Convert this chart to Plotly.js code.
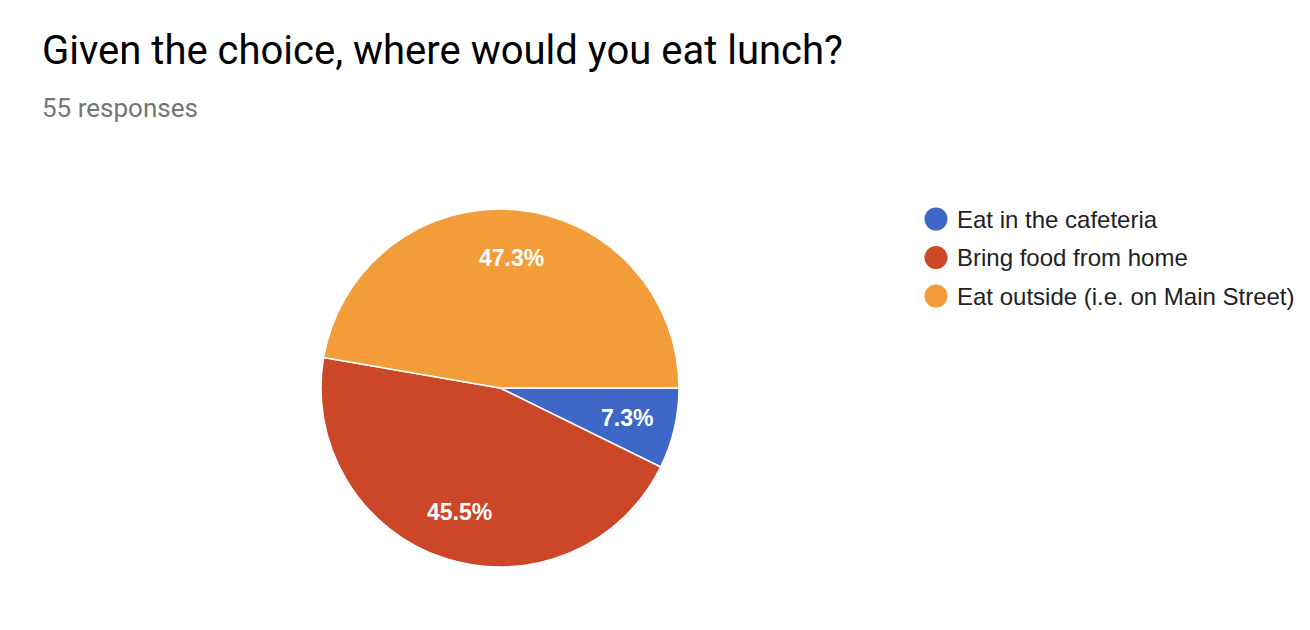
<!DOCTYPE html>
<html>
<head>
<meta charset="utf-8">
<script src="https://cdn.plot.ly/plotly-3.0.1.min.js"></script>
<style>html,body{margin:0;padding:0;background:#fff;}#chart{width:1310px;height:630px;}</style>
</head>
<body>
<div id="chart"></div>
<script>
const titleText = "Given the choice, where would you eat lunch?";
const subtitleText = "55 responses";
const categories = ["Eat in the cafeteria", "Bring food from home", "Eat outside (i.e. on Main Street)"];
const counts = [4, 25, 26];
const colors = ["#3e67c7", "#cc4728", "#f29d3a"];

const W = 1310, H = 630;
// pie geometry (pixels)
const pieCx = 500, pieCy = 388, pieR = 179;
const labelFrac = 0.73;

const legendX = 936 / W;      // circle centre (paper)
const legendTextX = 955 / W;
const legendTopY = 1 - 219 / H;
const legendStep = 38.5 / H;

const shapes = [];
const annotations = [{
  text: subtitleText, xref: "paper", yref: "paper", x: 40 / W, y: 1 - 108 / H,
  xanchor: "left", yanchor: "middle", showarrow: false,
  font: {family: "Roboto", size: 26, color: "#757575"}
}];
categories.forEach((c, i) => {
  const yc = legendTopY - i * legendStep;
  const rx = 11.5 / W, ry = 11.5 / H;
  shapes.push({type: "circle", xref: "paper", yref: "paper",
    x0: legendX - rx, x1: legendX + rx, y0: yc - ry, y1: yc + ry,
    fillcolor: colors[i], line: {width: 0}});
  annotations.push({text: c, xref: "paper", yref: "paper", x: legendTextX, y: yc,
    xanchor: "left", yanchor: "middle", showarrow: false,
    font: {family: "Liberation Sans, Arial", size: 24, color: "#222222"}});
});

// percentage labels placed at each slice's mid-angle (clockwise from 3 o'clock)
const total = counts.reduce((a, b) => a + b, 0);
let cum = 0;
counts.forEach((v, i) => {
  const mid = (cum + v / 2) / total * 2 * Math.PI;
  cum += v;
  const px = pieCx + labelFrac * pieR * Math.cos(mid);
  const py = pieCy + labelFrac * pieR * Math.sin(mid);
  annotations.push({text: (v / total * 100).toFixed(1) + "%", xref: "paper", yref: "paper",
    x: px / W, y: 1 - py / H, xanchor: "center", yanchor: "middle", showarrow: false,
    font: {family: "Liberation Sans, Arial", size: 23, color: "#ffffff", weight: "bold"}});
});

const data = [{
  type: "pie",
  labels: categories,
  values: counts,
  sort: false,
  direction: "clockwise",
  rotation: 90,
  marker: {colors: colors, line: {color: "#ffffff", width: 1.5}},
  textinfo: "none",
  domain: {x: [(pieCx - pieR) / W, (pieCx + pieR) / W], y: [1 - (pieCy + pieR) / H, 1 - (pieCy - pieR) / H]},
  hoverinfo: "none",
  showlegend: false
}];

const layout = {
  width: W, height: H,
  margin: {l: 0, r: 0, t: 0, b: 0},
  paper_bgcolor: "#ffffff",
  showlegend: false,
  title: {text: titleText, x: 42 / W, xanchor: "left", xref: "paper",
    y: 1 - 50 / H, yanchor: "middle", yref: "container",
    font: {family: "Roboto", size: 40, color: "#000000"}},
  shapes: shapes,
  annotations: annotations
};

Plotly.newPlot("chart", data, layout, {displayModeBar: false, staticPlot: true});
</script>
</body>
</html>
